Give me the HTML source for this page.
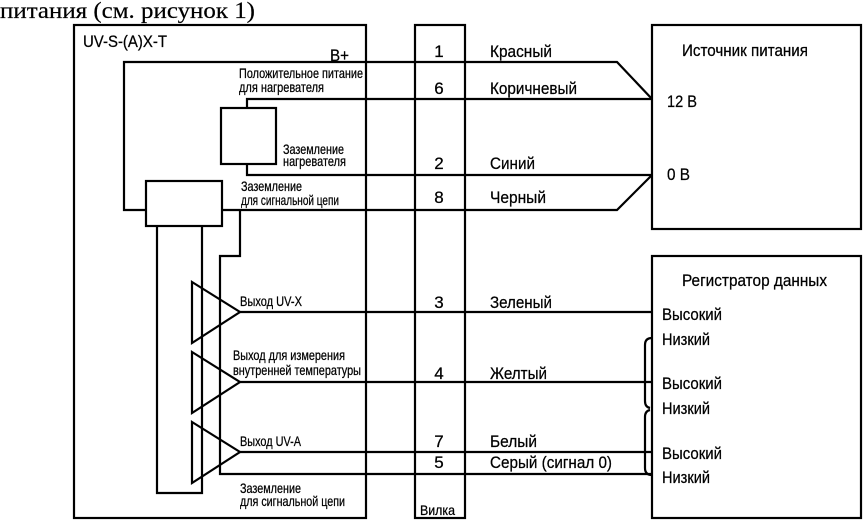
<!DOCTYPE html>
<html>
<head>
<meta charset="utf-8">
<style>
  html,body{margin:0;padding:0;background:#fff;}
  svg{display:block;}
  text{font-family:"Liberation Sans","DejaVu Sans",sans-serif;fill:#000;stroke:#000;stroke-width:0.25;}
  .s{font-size:14px;}
  .m{font-size:17px;}
  .l{font-size:17px;}
</style>
</head>
<body>
<svg width="865" height="521" viewBox="0 0 865 521" xmlns="http://www.w3.org/2000/svg">
  <text x="0" y="18" style="font-family:'Liberation Serif',serif;font-size:23px;stroke-width:0.2" textLength="255" lengthAdjust="spacingAndGlyphs">питания (см. рисунок 1)</text>

  <g fill="none" stroke="#000" stroke-width="2.2">
    <!-- boxes -->
    <rect x="74" y="25" width="292" height="493"/>
    <rect x="415" y="25" width="50" height="493"/>
    <rect x="652" y="25" width="209" height="204"/>
    <rect x="652" y="256" width="209" height="262"/>
    <rect x="221" y="108" width="55" height="56"/>
    <rect x="146" y="181" width="76" height="45"/>

    <!-- wires -->
    <polyline points="146,210 124,210 124,62 617,62 652,99"/>
    <polyline points="247,108 247,99 652,99"/>
    <polyline points="247,164 247,175 652,175"/>
    <polyline points="222,210 617,210 652,175"/>
    <polyline points="240,210 240,256 220,256 220,474 652,474"/>
    <polyline points="157,226 157,493 202,493 202,226"/>

    <!-- amplifiers -->
    <polygon points="192,282 240,312 192,343"/>
    <polygon points="192,352 240,382 192,413"/>
    <polygon points="192,422 240,452 192,483"/>
    <line x1="240" y1="312" x2="652" y2="312"/>
    <line x1="240" y1="382" x2="652" y2="382"/>
    <line x1="240" y1="452" x2="652" y2="452"/>

    <!-- braces -->
    <path d="M652,338 Q645,338 645,345 L645,401 Q645,407 650,408"/>
    <path d="M650,410 Q645,411 645,417 L645,468 Q645,475 652,475"/>
  </g>

  <!-- left module labels -->
  <text class="l" x="83" y="47" textLength="84" lengthAdjust="spacingAndGlyphs">UV-S-(A)X-T</text>
  <text class="m" x="330" y="61" textLength="19" lengthAdjust="spacingAndGlyphs">B+</text>
  <text class="s" x="239" y="78" textLength="124" lengthAdjust="spacingAndGlyphs">Положительное питание</text>
  <text class="s" x="239" y="92" textLength="85" lengthAdjust="spacingAndGlyphs">для нагревателя</text>
  <text class="s" x="283" y="154" textLength="61" lengthAdjust="spacingAndGlyphs">Заземление</text>
  <text class="s" x="283" y="166" textLength="63" lengthAdjust="spacingAndGlyphs">нагревателя</text>
  <text class="s" x="241" y="191" textLength="61" lengthAdjust="spacingAndGlyphs">Заземление</text>
  <text class="s" x="241" y="205" textLength="98" lengthAdjust="spacingAndGlyphs">для сигнальной цепи</text>
  <text class="s" x="240" y="306" textLength="62" lengthAdjust="spacingAndGlyphs">Выход UV-X</text>
  <text class="s" x="233" y="360" textLength="112" lengthAdjust="spacingAndGlyphs">Выход для измерения</text>
  <text class="s" x="233" y="375" textLength="128" lengthAdjust="spacingAndGlyphs">внутренней температуры</text>
  <text class="s" x="240" y="446" textLength="61" lengthAdjust="spacingAndGlyphs">Выход UV-A</text>
  <text class="s" x="240" y="493" textLength="61" lengthAdjust="spacingAndGlyphs">Заземление</text>
  <text class="s" x="240" y="506" textLength="105" lengthAdjust="spacingAndGlyphs">для сигнальной цепи</text>

  <!-- pin numbers -->
  <g class="m" text-anchor="middle">
    <text x="439" y="57">1</text>
    <text x="439" y="94">6</text>
    <text x="439" y="169">2</text>
    <text x="439" y="203">8</text>
    <text x="439" y="308">3</text>
    <text x="439" y="379">4</text>
    <text x="439" y="447">7</text>
    <text x="439" y="468">5</text>
  </g>
  <text class="s" x="420" y="515" textLength="35" lengthAdjust="spacingAndGlyphs">Вилка</text>

  <!-- wire colours -->
  <text class="m" x="490" y="57" textLength="62" lengthAdjust="spacingAndGlyphs">Красный</text>
  <text class="m" x="490" y="94" textLength="87" lengthAdjust="spacingAndGlyphs">Коричневый</text>
  <text class="m" x="490" y="169" textLength="45" lengthAdjust="spacingAndGlyphs">Синий</text>
  <text class="m" x="490" y="203" textLength="56" lengthAdjust="spacingAndGlyphs">Черный</text>
  <text class="m" x="490" y="308" textLength="62" lengthAdjust="spacingAndGlyphs">Зеленый</text>
  <text class="m" x="490" y="379" textLength="57" lengthAdjust="spacingAndGlyphs">Желтый</text>
  <text class="m" x="490" y="447" textLength="47" lengthAdjust="spacingAndGlyphs">Белый</text>
  <text class="m" x="490" y="468" textLength="122" lengthAdjust="spacingAndGlyphs">Серый (сигнал 0)</text>

  <!-- power source -->
  <text class="l" x="682" y="56" textLength="126" lengthAdjust="spacingAndGlyphs">Источник питания</text>
  <text class="l" x="667" y="107" textLength="30" lengthAdjust="spacingAndGlyphs">12 В</text>
  <text class="l" x="667" y="180" textLength="23" lengthAdjust="spacingAndGlyphs">0 В</text>

  <!-- data logger -->
  <text class="l" x="682" y="286" textLength="145" lengthAdjust="spacingAndGlyphs">Регистратор данных</text>
  <text class="l" x="662" y="320" textLength="60" lengthAdjust="spacingAndGlyphs">Высокий</text>
  <text class="l" x="662" y="345" textLength="48" lengthAdjust="spacingAndGlyphs">Низкий</text>
  <text class="l" x="662" y="389" textLength="60" lengthAdjust="spacingAndGlyphs">Высокий</text>
  <text class="l" x="662" y="414" textLength="48" lengthAdjust="spacingAndGlyphs">Низкий</text>
  <text class="l" x="662" y="459" textLength="60" lengthAdjust="spacingAndGlyphs">Высокий</text>
  <text class="l" x="662" y="483" textLength="48" lengthAdjust="spacingAndGlyphs">Низкий</text>
</svg>
</body>
</html>
